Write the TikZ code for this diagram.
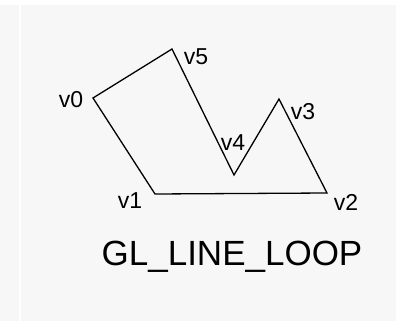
\documentclass[tikz,border=0pt]{standalone}
\usepackage{fontspec}
\setmainfont{Liberation Sans}
\definecolor{panelgray}{HTML}{F7F7F7}

\begin{document}
\begin{tikzpicture}[x=1pt,y=-1pt]
\tikzset{
  panel/.style={fill=panelgray,draw=none},
  vlabel/.style={font=\fontsize{23}{23}\selectfont,inner sep=0pt},
  loopedge/.style={draw=black,line width=1.3pt,line cap=round,line join=miter},
  caption/.style={font=\fontsize{35}{35}\selectfont,inner sep=0pt}
}
\useasboundingbox (0,0) rectangle (397,321);
\fill[white] (0,0) rectangle (397,321);
\fill[panel] (0,5) rectangle (19,321);
\fill[panel] (21,5) rectangle (396,321);
% vertices of the loop
\coordinate (v0) at (93,98);
\coordinate (v1) at (155,194);
\coordinate (v2) at (327,193);
\coordinate (v3) at (279,99);
\coordinate (v4) at (234,175);
\coordinate (v5) at (172,49);
\node[vlabel] (l0) at (71,100) {v0};
\node[vlabel] (l1) at (130,201) {v1};
\node[vlabel] (l2) at (346,202) {v2};
\node[vlabel] (l3) at (303,112) {v3};
\node[vlabel] (l4) at (233,143) {v4};
\node[vlabel] (l5) at (196,57) {v5};
\draw[loopedge] (v0) -- (v1) -- (v2) -- (v3) -- (v4) -- (v5) -- cycle;
\node[caption] (title) at (232,257) {GL\_LINE\_LOOP};
\end{tikzpicture}
\end{document}
